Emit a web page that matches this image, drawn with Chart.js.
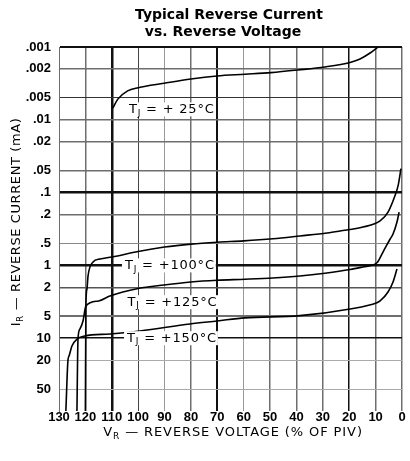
<!DOCTYPE html>
<html><head><meta charset="utf-8">
<script src="https://cdn.jsdelivr.net/npm/chart.js@4.4.0/dist/chart.umd.min.js"></script>
<style>html,body{margin:0;padding:0;background:#fff;}#wrap{width:410px;height:461px;}</style>
</head><body><div id="wrap"><canvas id="c" width="410" height="461"></canvas></div>
<script>
// ---- data ----
const voltageTicks = [0,10,20,30,40,50,60,70,80,90,100,110,120,130];
const currentTicks = [0.001,0.002,0.005,0.01,0.02,0.05,0.1,0.2,0.5,1,2,5,10,20,50,100];
const currentTickLabels = ['.001','.002','.005','.01','.02','.05','.1','.2','.5','1','2','5','10','20','50',''];
const titleLines = ['Typical Reverse Current','vs. Reverse Voltage'];

const v25 = [9.1, 12.1, 15.9, 19.7, 29.2, 39.4, 49.7, 59.5, 70.1, 80, 90.2, 100, 104, 107.7, 109.6];
const i25 = [0.001, 0.00121, 0.00146, 0.00163, 0.00188, 0.00207, 0.00225, 0.00237, 0.0025, 0.00275, 0.00315, 0.00362, 0.0040, 0.0052, 0.0069];

const v100 = [0.4, 1.5, 2.7, 5.3, 8.3, 14.8, 23.5, 28.4, 38.7, 48.9, 60, 70, 80, 90, 100, 109.9, 114.5, 117.1, 119, 119.4, 119.8, 120];
const i100 = [0.047, 0.081, 0.111, 0.185, 0.245, 0.297, 0.337, 0.359, 0.394, 0.43, 0.46, 0.48, 0.51, 0.56, 0.644, 0.767, 0.817, 0.898, 1.40, 2.11, 3.39, 100];

const v125 = [1.1, 1.9, 3.4, 4.5, 7.2, 9.5, 14.8, 19.7, 29.2, 38.7, 49, 59.5, 70.1, 80, 90.2, 100, 110.7, 115, 119.8, 120.9, 122.1, 122.8, 123.2];
const i125 = [0.185, 0.254, 0.37, 0.434, 0.655, 0.92, 1.05, 1.14, 1.28, 1.40, 1.49, 1.55, 1.60, 1.69, 1.86, 2.08, 2.63, 3.08, 3.61, 5.8, 7.5, 10.3, 100];

const v150 = [1.9, 3.4, 5.3, 8.3, 9.5, 19.7, 38.7, 59.5, 70.1, 80.4, 99.3, 110.7, 120.2, 123.2, 125.1, 126.2, 126.6, 127.4];
const i150 = [1.12, 1.69, 2.32, 3.08, 3.25, 3.97, 4.9, 5.25, 5.8, 6.38, 7.96, 8.75, 9.33, 10.3, 12.8, 17.6, 20, 100];

const seriesNames = ['+25°C','+100°C','+125°C','+150°C'];

// ---- helpers ----
const pts = (vs, is) => vs.map((v, k) => ({x: v, y: is[k]}));
const GRAY = '#6e6e6e', BLACK = '#111';
const xGrid = {0:[GRAY,1.5],10:[GRAY,1.5],20:[BLACK,1.5],30:[GRAY,1.5],40:[GRAY,1.5],50:[GRAY,1.5],60:['#999',1],
  70:[BLACK,2],80:[GRAY,1.5],90:['#999',1],100:['#444',1],110:[BLACK,2.5],120:[GRAY,1.5],130:[GRAY,1]};
const yGrid = {'.001':[BLACK,2],'.002':[GRAY,1.5],'.005':['#333',1],'.01':[GRAY,1.5],'.02':[GRAY,1.5],'.05':[GRAY,1.5],
  '.1':[BLACK,2.5],'.2':[GRAY,1.5],'.5':['#888',1],'1':[BLACK,2.5],'2':['#555',1.5],'5':[GRAY,2],'10':[BLACK,1.5],
  '20':['#aaa',1],'50':['#aaa',1],'':['rgba(0,0,0,0)',0]};

function richWidth(ctx, parts, size, fam, weight, spacing) {
  let w = 0;
  parts.forEach(([t, sub]) => {
    ctx.font = `${weight} ${sub ? Math.round(size*0.7) : size}px ${fam}`;
    ctx.letterSpacing = spacing + 'px';
    w += ctx.measureText(t).width;
  });
  return w;
}
function drawRich(ctx, parts, x, y, size, fam, weight, spacing, align) {
  const w = richWidth(ctx, parts, size, fam, weight, spacing);
  let cx = align === 'center' ? x - w/2 : x;
  ctx.textAlign = 'left';
  parts.forEach(([t, sub]) => {
    ctx.font = `${weight} ${sub ? Math.round(size*0.7) : size}px ${fam}`;
    ctx.letterSpacing = spacing + 'px';
    ctx.fillText(t, cx, sub ? y + size*0.3 : y);
    cx += ctx.measureText(t).width;
  });
  return w;
}

const curveLabels = [
  {parts: [['T',0],['J',1],[' = + 25°C',0]], v: 103.5, i: 0.0072},
  {parts: [['T',0],['J',1],[' = +100°C',0]], v: 105, i: 1},
  {parts: [['T',0],['J',1],[' = +125°C',0]], v: 104, i: 3.2},
  {parts: [['T',0],['J',1],[' = +150°C',0]], v: 104.2, i: 10}
];

const textPlugin = {
  id: 'texts',
  afterDatasetsDraw(chart) {
    const ctx = chart.ctx, xs = chart.scales.x, ys = chart.scales.y;
    ctx.save();
    ctx.textBaseline = 'middle';
    curveLabels.forEach(l => {
      const px = xs.getPixelForValue(l.v), py = ys.getPixelForValue(l.i);
      const w = richWidth(ctx, l.parts, 13, '"DejaVu Sans"', 'normal', 0.8);
      ctx.fillStyle = '#fff';
      ctx.fillRect(px - 3, py - 7, w + 4, 14);
      ctx.fillStyle = '#000';
      drawRich(ctx, l.parts, px, py, 13, '"DejaVu Sans"', 'normal', 0.8, 'left');
    });
    ctx.restore();
  },
  afterDraw(chart) {
    const ctx = chart.ctx;
    ctx.save();
    ctx.fillStyle = '#000';
    ctx.textBaseline = 'alphabetic';
    ctx.textAlign = 'center';
    ctx.font = 'bold 14px "DejaVu Sans"';
    ctx.fillText(titleLines[0], 229, 19);
    ctx.fillText(titleLines[1], 223, 36);
    ctx.textBaseline = 'middle';
    drawRich(ctx, [['V',0],['R',1],[' — REVERSE VOLTAGE (% OF PIV)',0]], 233, 433, 13, '"DejaVu Sans"', 'normal', 0.9, 'center');
    ctx.translate(17, 222);
    ctx.rotate(-Math.PI/2);
    drawRich(ctx, [['I',0],['R',1],[' — REVERSE CURRENT (mA)',0]], 0, 0, 13, '"DejaVu Sans"', 'normal', 0.6, 'center');
    ctx.restore();
  }
};

const mk = (label, vs, is) => ({label, data: pts(vs, is), borderColor: '#000', borderWidth: 1.6,
  pointRadius: 0, showLine: true, cubicInterpolationMode: 'monotone', fill: false});

new Chart(document.getElementById('c'), {
  type: 'scatter',
  data: { datasets: [
    mk(seriesNames[0], v25, i25), mk(seriesNames[1], v100, i100),
    mk(seriesNames[2], v125, i125), mk(seriesNames[3], v150, i150)
  ]},
  options: {
    responsive: false, animation: false, devicePixelRatio: 1,
    layout: {padding: {left: 0, right: 8, top: 47, bottom: 0}},
    plugins: {legend: {display: false}, tooltip: {enabled: false}, title: {display: false}},
    scales: {
      x: {
        type: 'linear', min: 0, max: 130, reverse: true,
        afterBuildTicks: s => { s.ticks = voltageTicks.map(v => ({value: v})); },
        afterFit: s => { s.height = 50; s.paddingLeft = 0; s.paddingRight = 0; },
        ticks: {autoSkip: false, maxRotation: 0, padding: -1, color: '#000',
          font: {family: '"Liberation Sans", Arial', size: 13, weight: 'bold'},
          callback: v => String(v)},
        grid: {drawTicks: false,
          color: c => (xGrid[c.tick && c.tick.value] || [GRAY,1])[0],
          lineWidth: c => (xGrid[c.tick && c.tick.value] || [GRAY,1])[1]},
        border: {display: false}
      },
      y: {
        type: 'logarithmic', min: 0.001, max: 100, reverse: true,
        afterBuildTicks: s => { s.ticks = currentTicks.map(v => ({value: v})); },
        afterFit: s => { s.width = 59; s.paddingTop = 0; s.paddingBottom = 0; },
        ticks: {autoSkip: false, padding: 8, color: '#000',
          font: {family: '"Liberation Sans", Arial', size: 13, weight: 'bold'},
          callback: (v, idx) => currentTickLabels[idx]},
        grid: {drawTicks: false,
          color: c => (yGrid[currentTickLabels[c.index]] || [GRAY,1])[0],
          lineWidth: c => (yGrid[currentTickLabels[c.index]] || [GRAY,1])[1]},
        border: {display: true, color: GRAY, width: 1}
      }
    }
  },
  plugins: [textPlugin]
});
</script>
</body></html>
